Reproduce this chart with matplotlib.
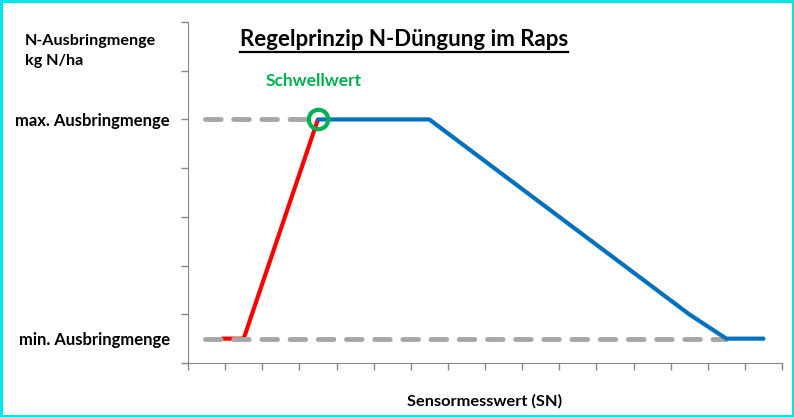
import matplotlib.pyplot as plt
from matplotlib.lines import Line2D

plt.rcParams['font.family'] = ['Lato', 'DejaVu Sans']

# data (x in sensor units, y in application units)
red_x = [0.9, 1.5, 3.5]
red_y = [0.5, 0.5, 5.0]
blue_x = [3.5, 6.5, 13.5, 14.5, 15.5]
blue_y = [5.0, 5.0, 1.0, 0.5, 0.5]
min_dash_x = [0.45, 14.5]
max_dash_x = [0.45, 3.4]
y_min = 0.5
y_max = 5.0
threshold = (3.5, 5.0)
y_labels = ['min. Ausbringmenge', 'max. Ausbringmenge']

fig = plt.figure(figsize=(7.94, 4.17), dpi=100)
ax = fig.add_axes([188 / 794, 1 - 363 / 417, (782 - 188) / 794, (363 - 22) / 417])

grey = '#A6A6A6'
ax.plot(red_x, red_y, color='#FF0000', lw=3, solid_capstyle='butt', zorder=2)
ax.plot(min_dash_x, [y_min, y_min], color=grey, lw=3.5, dashes=(3.2, 2.6),
        dash_capstyle='round', zorder=3)
ax.plot(max_dash_x, [y_max, y_max], color=grey, lw=3.5, dashes=(3.2, 2.6),
        dash_capstyle='round', zorder=3)
ax.plot(blue_x, blue_y, color='#0070C0', lw=3, solid_capstyle='round', zorder=4)
ax.plot(*threshold, marker='o', ms=14, mfc='none', mec='#00B050', mew=3, zorder=5)

ax.set_xlim(0, 16)
ax.set_ylim(0, 7)
ax.set_xticks(range(17))
ax.set_yticks(range(8))
ax.set_xticklabels([])
ax.set_yticklabels([])
ax.tick_params(axis='both', direction='out', length=5, color='#868686', width=1)
ax.yaxis.remove_overlapping_locs = False
ax.set_yticks([y_min, y_max], minor=True)
ax.set_yticklabels(y_labels, minor=True, fontsize=12, fontweight='bold')
ax.tick_params(axis='y', which='minor', length=0, pad=13)
for s in ['top', 'right']:
    ax.spines[s].set_visible(False)
for s in ['left', 'bottom']:
    ax.spines[s].set_color('#868686')

ax.set_xlabel('Sensormesswert (SN)', fontsize=11.8, fontweight='bold', labelpad=14)

fig.text(25 / 794, 1 - 51 / 417, 'N-Ausbringmenge\nkg N/ha', fontsize=11.6,
         fontweight='bold', ha='left', va='center', linespacing=1.5)
fig.text(314 / 794, 1 - 81 / 417, 'Schwellwert', fontsize=12.5, fontweight='bold',
         color='#00B050', ha='center', va='center')
title = fig.text(404 / 794, 1 - 39 / 417, 'Regelprinzip N-Düngung im Raps',
                 fontsize=16, fontweight='bold', ha='center', va='center')

# underline for the title
fig.canvas.draw()
bb = title.get_window_extent()
uy = 1 - 52 / 417
fig.add_artist(Line2D([bb.x0 / 794, bb.x1 / 794], [uy, uy], color='black', lw=1.6,
                      transform=fig.transFigure))

# cyan frame
fig.patch.set_edgecolor('#00E5E5')
fig.patch.set_linewidth(2.5)

fig.savefig('out.png', dpi=100, edgecolor=fig.get_edgecolor())
